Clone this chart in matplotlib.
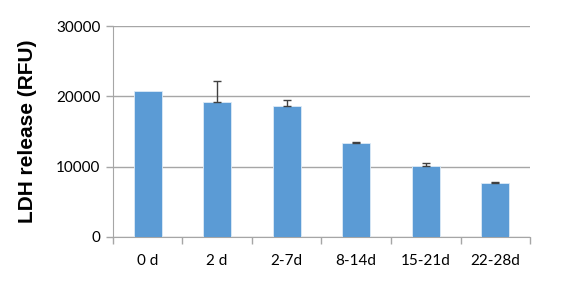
import matplotlib
matplotlib.use("Agg")
import matplotlib.pyplot as plt
import numpy as np

# data
categories = ["0 d", "2 d", "2-7d", "8-14d", "15-21d", "22-28d"]
ldh_values = [20700, 19200, 18600, 13300, 10100, 7600]
ldh_errors = [0, 3000, 900, 200, 400, 150]
y_ticks = [0, 10000, 20000, 30000]

grey = "#A6A6A6"
bar_color = "#5B9BD5"

fig = plt.figure(figsize=(5.70, 2.81), dpi=100)
ax = fig.add_axes([0.198, 0.157, 0.732, 0.75])

x = np.arange(len(categories))
ax.bar(x, ldh_values, width=0.4, color=bar_color, edgecolor="#DDEBF7",
       linewidth=0.6, zorder=3)

# upper error bars only, skip the ones with no spread
vals = np.array(ldh_values)
errs = np.array(ldh_errors)
has_err = errs > 0
ax.errorbar(x[has_err], vals[has_err],
            yerr=[np.zeros(has_err.sum()), errs[has_err]], fmt="none",
            ecolor="#404040", elinewidth=1, capsize=3, capthick=1, zorder=4)

ax.set_xlim(-0.5, len(categories) - 0.5)
ax.set_ylim(0, 30000)
ax.set_yticks(y_ticks)
ax.yaxis.grid(True, color=grey, linewidth=1, zorder=0)

# category ticks sit between bars, labels centred under bars
ax.set_xticks(x)
ax.set_xticklabels(categories, family="Lato", fontsize=11)
ax.set_xticks(np.arange(len(categories) + 1) - 0.5, minor=True)
ax.tick_params(axis="x", which="major", length=0, pad=12)
ax.tick_params(axis="x", which="minor", length=5, color=grey, width=1)
ax.tick_params(axis="y", length=5, color=grey, width=1, pad=4)
for lbl in ax.get_yticklabels():
    lbl.set_family("Lato")
    lbl.set_fontsize(11)

for side in ["top", "right"]:
    ax.spines[side].set_visible(False)
ax.spines["left"].set_color(grey)
ax.spines["bottom"].set_color(grey)

ax.set_ylabel("LDH release (RFU)", family="Liberation Sans", fontweight="bold",
              fontsize=15, labelpad=14)

fig.savefig("out.png", dpi=100, facecolor="white")
